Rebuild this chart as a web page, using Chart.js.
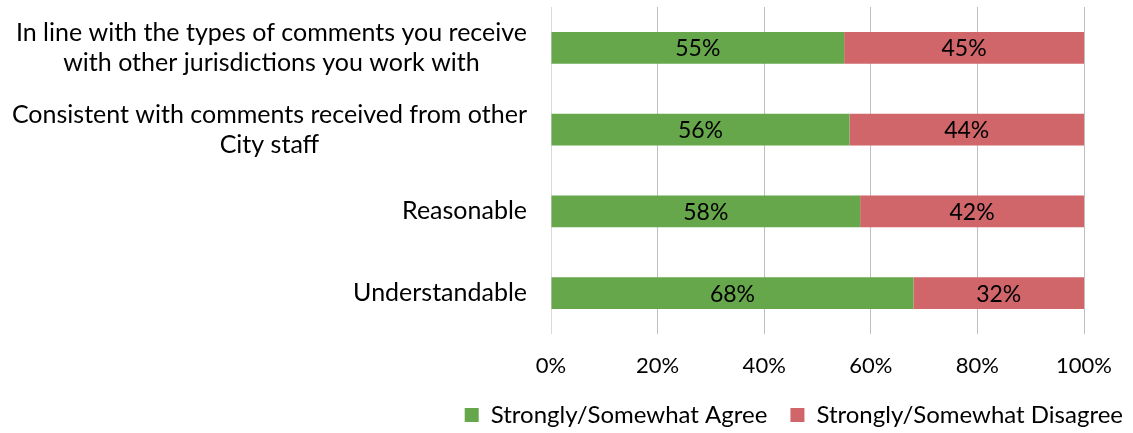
<!DOCTYPE html>
<html>
<head>
<meta charset="utf-8">
<script src="https://cdn.jsdelivr.net/npm/chart.js@4/dist/chart.umd.min.js"></script>
<style>
    html, body { margin: 0; padding: 0; background: #fff; }
    #wrap { width: 1133px; height: 433px; }
</style>
</head>
<body>
<div id="wrap"><canvas id="surveyChart" width="1133" height="433"></canvas></div>
<script>
// Survey responses: how plan review comments are perceived
const categoryLabels = [
    ['In line with the types of comments you receive', 'with other jurisdictions you work with'],
    ['Consistent with comments received from other', 'City staff'],
    ['Reasonable'],
    ['Understandable']
];
const agreeValues = [55, 56, 58, 68];
const disagreeValues = [45, 44, 42, 32];
const seriesNames = ['Strongly/Somewhat Agree', 'Strongly/Somewhat Disagree'];
const xTicks = [0, 20, 40, 60, 80, 100];

const FONT = 'Lato, "Open Sans", sans-serif';
const GREEN = 'rgb(103, 167, 75)';
const RED = 'rgb(208, 101, 106)';

// Category names drawn as centred blocks, right-aligned against the plot
const categoryLabelPlugin = {
    id: 'categoryLabels',
    afterDraw(chart) {
        const ctx = chart.ctx;
        const yScale = chart.scales.y;
        const lineHeight = 30;
        ctx.save();
        ctx.font = '25px ' + FONT;
        ctx.fillStyle = '#000';
        ctx.textAlign = 'center';
        ctx.textBaseline = 'middle';
        categoryLabels.forEach((lines, i) => {
            const y = yScale.getPixelForValue(i);
            const blockWidth = Math.max(...lines.map(l => ctx.measureText(l).width));
            const cx = chart.chartArea.left - 24 - blockWidth / 2;
            lines.forEach((line, j) => {
                ctx.fillText(line, cx, y + (j - (lines.length - 1) / 2) * lineHeight);
            });
        });
        ctx.restore();
    }
};

// Percent value in the middle of each bar segment
const valueLabelPlugin = {
    id: 'valueLabels',
    afterDatasetsDraw(chart) {
        const ctx = chart.ctx;
        ctx.save();
        ctx.font = '23px ' + FONT;
        ctx.fillStyle = '#000';
        ctx.textAlign = 'center';
        ctx.textBaseline = 'middle';
        chart.data.datasets.forEach((ds, di) => {
            chart.getDatasetMeta(di).data.forEach((bar, i) => {
                const x = (bar.x + bar.base) / 2;
                ctx.fillText(ds.data[i] + '%', x, bar.y + 1);
            });
        });
        ctx.restore();
    }
};

new Chart(document.getElementById('surveyChart'), {
    type: 'bar',
    data: {
        labels: categoryLabels.map(l => l.join(' ')),
        datasets: [
            {
                label: seriesNames[0],
                data: agreeValues,
                backgroundColor: GREEN,
                barPercentage: 0.39,
                categoryPercentage: 1
            },
            {
                label: seriesNames[1],
                data: disagreeValues,
                backgroundColor: RED,
                barPercentage: 0.39,
                categoryPercentage: 1
            }
        ]
    },
    options: {
        indexAxis: 'y',
        responsive: false,
        animation: false,
        layout: {
            padding: { left: 0, right: -13, top: 7, bottom: -4 }
        },
        plugins: {
            tooltip: { enabled: false },
            legend: {
                position: 'bottom',
                align: 'end',
                labels: {
                    boxWidth: 14,
                    boxHeight: 14,
                    padding: 23,
                    color: '#000',
                    font: { family: FONT, size: 24 }
                }
            }
        },
        scales: {
            x: {
                stacked: true,
                min: 0,
                max: 100,
                afterBuildTicks(axis) {
                    axis.ticks = xTicks.map(v => ({ value: v }));
                },
                afterFit(axis) {
                    axis.paddingRight = 49;
                    axis.height = 46;
                },
                grid: {
                    color: ctx => ctx.index === 0 ? '#d9d9d9' : '#bfbfbf',
                    lineWidth: 1,
                    drawTicks: false
                },
                border: { display: false },
                ticks: {
                    padding: 19,
                    color: '#000',
                    font: { family: FONT, size: 22 },
                    callback: v => v + '%'
                }
            },
            y: {
                stacked: true,
                afterFit(axis) {
                    axis.width = 551;
                },
                ticks: { display: false },
                grid: { display: false },
                border: { display: false }
            }
        }
    },
    plugins: [categoryLabelPlugin, valueLabelPlugin]
});
</script>
</body>
</html>
